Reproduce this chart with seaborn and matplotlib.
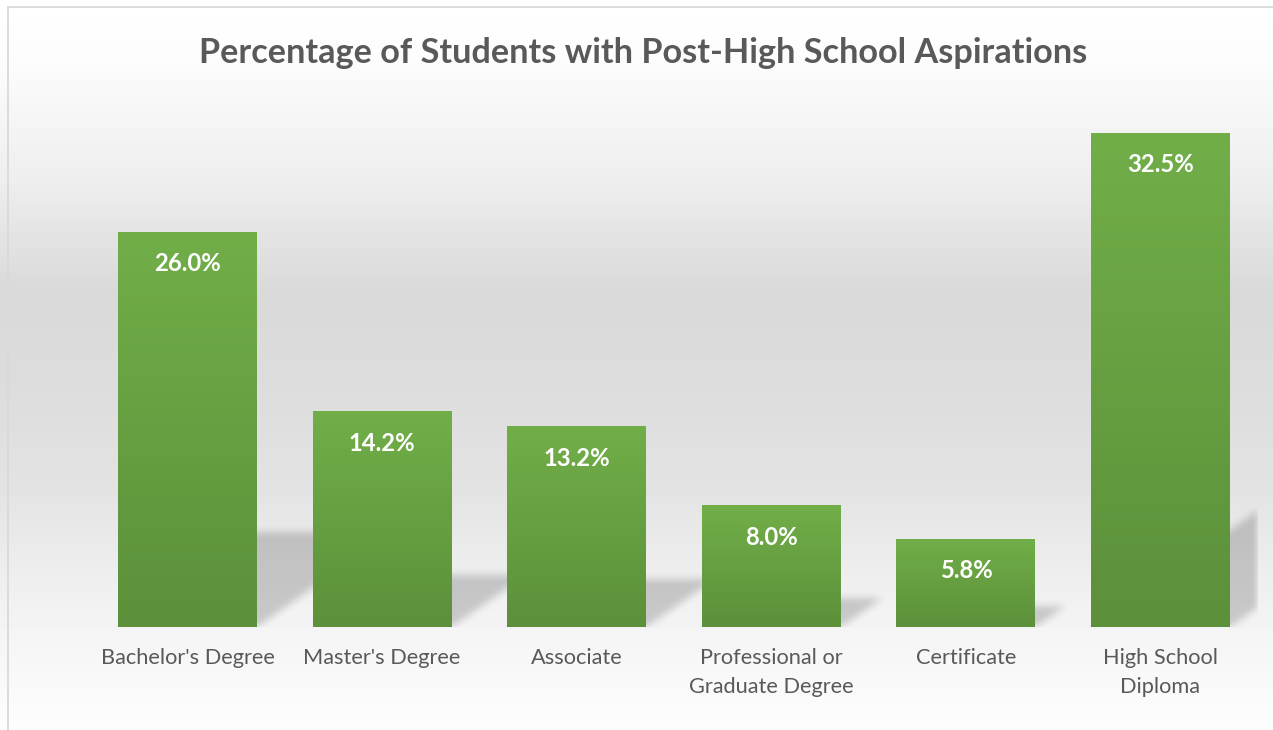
# -*- coding: utf-8 -*-
"""
Percentage of Students with Post-High School Aspirations
Excel-style bar chart: gradient background, gradient bars, perspective shadows
"""
import numpy as np
import pandas as pd
import matplotlib
matplotlib.use("Agg")
import matplotlib.pyplot as plt
import seaborn as sns
from matplotlib.colors import LinearSegmentedColormap

# ========== data ==========
categories = ["Bachelor's Degree", "Master's Degree", "Associate",
              "Professional or\nGraduate Degree", "Certificate",
              "High School\nDiploma"]
values = [26.0, 14.2, 13.2, 8.0, 5.8, 32.5]
TITLE = "Percentage of Students with Post-High School Aspirations"

# ========== style ==========
sns.set_style("white")
plt.rcParams["font.family"] = ["Lato", "DejaVu Sans"]
TEXT_COLOR = "#595959"
GREEN_TOP = "#71ae48"
GREEN_BOTTOM = "#5c903a"

W_PX, H_PX = 1273, 730
fig = plt.figure(figsize=(W_PX / 100, H_PX / 100), dpi=100)

# background: vertical grey gradient over the whole chart area
bg = fig.add_axes([0, 0, 1, 1], zorder=0)
bg.axis("off")
rows = np.arange(H_PX)
stops_y = [0, 60, 180, 290, 380, 480, 560, 627, 729]
stops_v = [255, 252, 238, 217, 220, 226, 236, 244, 253]
col = np.interp(rows, stops_y, stops_v) / 255.0
grad_bg = np.repeat(col[:, None], 4, axis=1)
bg.imshow(grad_bg, cmap="gray", vmin=0, vmax=1, aspect="auto",
          extent=[0, 1, 0, 1], origin="upper")
bg.set_xlim(0, 1)
bg.set_ylim(0, 1)
# thin chart border (left + top visible)
bx, by = 8 / W_PX, 1 - 7 / H_PX
bg.plot([bx, bx], [0, by], color="#d9d9d9", lw=1.3)
bg.plot([bx, 1], [by, by], color="#d9d9d9", lw=1.3)

# ========== main axes ==========
ax = fig.add_axes([90.2 / W_PX, (H_PX - 627) / H_PX,
                   1167.6 / W_PX, (627 - 95) / H_PX], zorder=1)
ax.patch.set_alpha(0)

df = pd.DataFrame({"category": categories, "value": values})
sns.barplot(data=df, x="category", y="value", color=GREEN_BOTTOM,
            saturation=1, width=0.714, linewidth=0, ax=ax, zorder=3)

XMIN, XMAX, YMAX = -0.5, 5.5, 35
ax.set_xlim(XMIN, XMAX)
ax.set_ylim(0, YMAX)

# perspective shadows: sheared, squashed copy of each bar, blurred
ax_w = int(round(1167.6))
ax_h = 627 - 95
xs = XMIN + (np.arange(ax_w) + 0.5) / ax_w * (XMAX - XMIN)
ys = (np.arange(ax_h) + 0.5) / ax_h * YMAX
X, Y = np.meshgrid(xs, ys)
shear = 1.43 * (ax_h / YMAX) / (ax_w / (XMAX - XMIN))
mask = np.zeros_like(X)
for bar, v in zip(ax.containers[0], values):
    xl, xr = bar.get_x(), bar.get_x() + bar.get_width()
    hs = 0.24 * v
    m = (Y <= hs) & (X >= xl + shear * Y) & (X <= xr + shear * Y)
    mask = np.maximum(mask, m.astype(float))

kernel = np.ones(9) / 9.0
for _ in range(2):
    mask = np.apply_along_axis(lambda r: np.convolve(r, kernel, mode="same"), 1, mask)
    mask = np.apply_along_axis(lambda c: np.convolve(c, kernel, mode="same"), 0, mask)
shadow = np.zeros((ax_h, ax_w, 4))
shadow[..., 3] = mask * 0.18
ax.imshow(shadow, extent=[XMIN, XMAX, 0, YMAX], origin="lower",
          aspect="auto", zorder=2, interpolation="bilinear")

# gradient fill for each bar
green_cmap = LinearSegmentedColormap.from_list("g", [GREEN_BOTTOM, GREEN_TOP])
grad = np.linspace(1, 0, 256)[:, None]
for bar in ax.containers[0]:
    x0, w, h = bar.get_x(), bar.get_width(), bar.get_height()
    im = ax.imshow(grad, cmap=green_cmap, vmin=0, vmax=1, aspect="auto",
                   extent=[x0, x0 + w, 0, h], zorder=4)
    im.set_clip_path(bar)

ax.set_xlim(XMIN, XMAX)
ax.set_ylim(0, YMAX)

# value labels inside bar tops
for i, v in enumerate(values):
    ax.annotate(f"{v:.1f}%", (i, v), xytext=(0, -23), textcoords="offset points",
                ha="center", va="center", color="white", fontsize=17.2,
                fontweight="bold", zorder=6)

sns.despine(ax=ax, left=True, bottom=True)
ax.set_xlabel("")
ax.set_ylabel("")
ax.set_yticks([])
ax.tick_params(axis="x", length=0, pad=15, labelsize=15.7, labelcolor=TEXT_COLOR)
for lbl in ax.get_xticklabels():
    lbl.set_linespacing(1.6)

fig.text(643.5 / W_PX, 1 - 53 / H_PX, TITLE, ha="center", va="center",
         fontsize=24.7, fontweight="bold", color=TEXT_COLOR)

fig.savefig("out.png", dpi=100)
